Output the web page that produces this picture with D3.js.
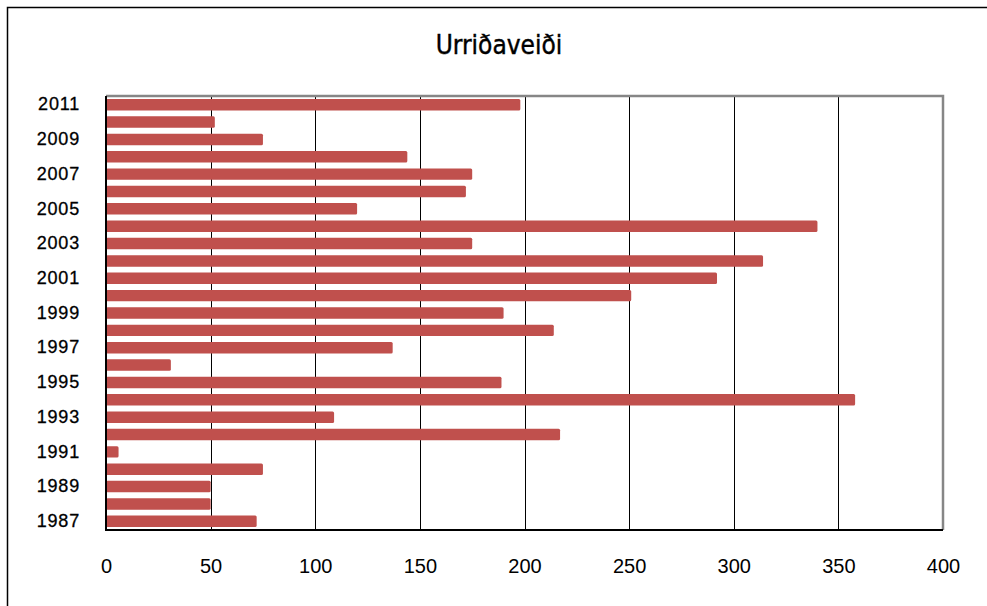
<!DOCTYPE html>
<html>
<head>
<meta charset="utf-8">
<script src="https://cdn.jsdelivr.net/npm/d3@7"></script>
<style>
  body { margin: 0; background: #fff; }
  svg { display: block; }
</style>
</head>
<body>
<div id="chart"></div>
<script>
// data
var years = [1987, 1988, 1989, 1990, 1991, 1992, 1993, 1994, 1995, 1996, 1997, 1998, 1999,
             2000, 2001, 2002, 2003, 2004, 2005, 2006, 2007, 2008, 2009, 2010, 2011];
var catch_values = [72, 50, 50, 75, 6, 217, 109, 358, 189, 31, 137, 214, 190,
                    251, 292, 314, 175, 340, 120, 172, 175, 144, 75, 52, 198];
var xTicks = [0, 50, 100, 150, 200, 250, 300, 350, 400];
var yLabels = [1987, 1989, 1991, 1993, 1995, 1997, 1999, 2001, 2003, 2005, 2007, 2009, 2011];
var title = "Urriðaveiði";

var width = 987, height = 606;
var margin = {top: 96, right: 44, bottom: 76, left: 106};
var plotW = width - margin.left - margin.right;
var plotH = height - margin.top - margin.bottom;

var svg = d3.select("#chart")
  .append("svg")
  .attr("width", width)
  .attr("height", height);

// outer frame (only top + left visible)
svg.append("path")
  .attr("d", "M7.5," + height + "V7.5H" + width)
  .attr("fill", "none")
  .attr("stroke", "#000")
  .attr("stroke-width", 1.5);

svg.append("text")
  .attr("x", 499)
  .attr("y", 54)
  .attr("text-anchor", "middle")
  .attr("font-family", "'DejaVu Sans Condensed', 'DejaVu Sans', sans-serif")
  .attr("font-size", "26px")
  .attr("stroke", "#000")
  .attr("stroke-width", 0.4)
  .attr("fill", "#000")
  .text(title);

var x = d3.scaleLinear().domain([0, 400]).range([0, plotW]);

// 2011 on top
var y = d3.scaleBand()
  .domain(years.slice().reverse())
  .range([0, plotH])
  .paddingInner(0.34)
  .paddingOuter(0.17);

var g = svg.append("g")
  .attr("transform", "translate(" + margin.left + "," + margin.top + ")");

// gridlines
g.selectAll(".grid")
  .data(xTicks.filter(function(d){ return d > 0 && d < 400; }))
  .enter()
  .append("line")
  .attr("class", "grid")
  .attr("x1", function(d){ return Math.round(x(d)) + 0.5; })
  .attr("x2", function(d){ return Math.round(x(d)) + 0.5; })
  .attr("y1", 0)
  .attr("y2", plotH)
  .attr("stroke", "#000")
  .attr("stroke-width", 1);

// plot frame top/right in grey
g.append("path")
  .attr("d", "M0,0H" + plotW + "V" + plotH)
  .attr("fill", "none")
  .attr("stroke", "#868686")
  .attr("stroke-width", 2.5);

// bars
g.selectAll(".bar")
  .data(years)
  .enter()
  .append("rect")
  .attr("class", "bar")
  .attr("x", 0)
  .attr("y", function(d){ return y(d); })
  .attr("width", function(d, i){ return x(catch_values[i]); })
  .attr("height", y.bandwidth())
  .attr("rx", 1.5)
  .attr("fill", "#C0504D");

// axes lines (left + bottom black)
g.append("path")
  .attr("d", "M0,0V" + plotH + "H" + plotW)
  .attr("fill", "none")
  .attr("stroke", "#000")
  .attr("stroke-width", 2);

// x labels
var xAxis = d3.axisBottom(x).tickValues(xTicks).tickSize(0).tickPadding(0);
var xg = g.append("g")
  .attr("transform", "translate(0," + plotH + ")")
  .call(xAxis);
xg.select(".domain").remove();
xg.selectAll("text")
  .attr("y", 43)
  .attr("dy", 0)
  .attr("font-family", "'Liberation Sans', Arial, sans-serif")
  .attr("font-size", "20px")
  .attr("fill", "#000");

// y labels (odd years only)
var yAxis = d3.axisLeft(y).tickValues(yLabels).tickSize(0).tickPadding(26);
var yg = g.append("g").call(yAxis);
yg.select(".domain").remove();
yg.selectAll("text")
  .attr("font-family", "'Liberation Sans', Arial, sans-serif")
  .attr("font-size", "18px")
  .attr("letter-spacing", "0.8px")
  .attr("stroke", "#000")
  .attr("stroke-width", 0.3)
  .attr("fill", "#000");
</script>
</body>
</html>
